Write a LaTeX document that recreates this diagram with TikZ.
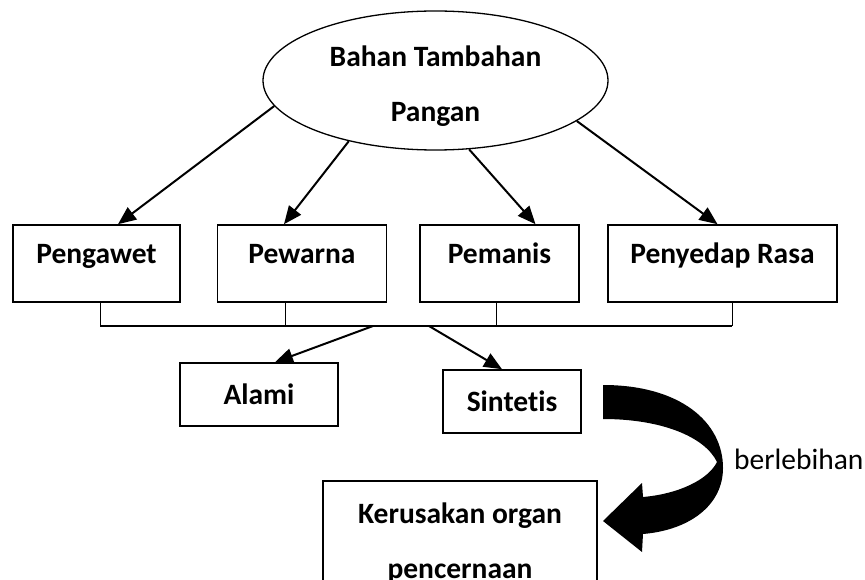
\documentclass[tikz,border=0pt]{standalone}
\usepackage{fontspec}
\setmainfont{Carlito}[Ligatures=NoCommon]
\usetikzlibrary{arrows.meta,shapes.geometric}

\begin{document}
\begin{tikzpicture}[x=1pt,y=-1pt,
  every node/.style={font=\fontsize{29.5}{55}\selectfont},
  kotak/.style={draw, line width=1.6pt, inner sep=0pt, font=\fontsize{29.5}{55}\selectfont\bfseries},
  atas/.style={kotak, text height=38pt, text depth=39pt},
  elips/.style={draw, ellipse, line width=1.3pt, minimum width=345pt, minimum height=139pt},
  panah/.style={-{Triangle[length=18pt,width=15pt]}, line width=2pt}]
\useasboundingbox (0,0) rectangle (865,580);

% bahan tambahan pangan
\node[elips] (bahan) at (435.5,80.5) {};
\node[font=\fontsize{29.5}{55}\selectfont\bfseries, align=center, inner sep=0pt] (bahan-t) at (435.5,86.5) {Bahan Tambahan\\Pangan};

% jenis
\node[atas, minimum width=167pt] (pengawet) at (96.5,263.5) {Pengawet};
\node[atas, minimum width=169pt] (pewarna) at (302,263.5) {Pewarna};
\node[atas, minimum width=159pt] (pemanis) at (499.5,263.5) {Pemanis};
\node[atas, minimum width=229pt] (penyedap) at (722.5,263.5) {Penyedap Rasa};

\draw[panah] (bahan.189) -- ([xshift=21.5pt]pengawet.north);
\draw[panah] (bahan.215) -- ([xshift=-18pt]pewarna.north);
\draw[panah] (bahan.296) -- ([xshift=36pt]pemanis.north);
\draw[panah] (bahan.344) -- ([xshift=-5pt]penyedap.north);

% garis gabung
\coordinate (g1) at (100,326);
\coordinate (g2) at (285,326);
\coordinate (g3) at (496,326);
\coordinate (g4) at (732,326);
\draw[line width=1pt] (g1 |- pengawet.south) -- (g1);
\draw[line width=1pt] (g2 |- pewarna.south) -- (g2);
\draw[line width=1pt] (g3 |- pemanis.south) -- (g3);
\draw[line width=1pt] (g4 |- penyedap.south) -- (g4);
\draw[line width=2pt] (g1) -- (g4);

% sumber
\coordinate (j1) at (373,326);
\coordinate (j2) at (429,326);
\node[kotak, minimum width=158pt, minimum height=63pt] (alami) at (259,394.5) {Alami};
\node[kotak, minimum width=138pt, minimum height=63pt] (sintetis) at (512,401.5) {Sintetis};
\draw[panah] (j1) -- ([xshift=16pt]alami.north);
\draw[panah] (j2) -- ([xshift=-10pt]sintetis.north);

% akibat
\node[kotak, align=center, minimum width=274pt, inner ysep=21.5pt, anchor=north] (rusak) at (460,480) {Kerusakan organ\\pencernaan};
\fill (603,385) .. controls (680,385) and (723,422) .. (723,468)
  .. controls (723,505) and (690,530) .. (643,534) -- (642,552) -- (603,521)
  -- (642,483) -- (643,497) .. controls (678,494) and (708,480) .. (717,462)
  .. controls (705,437) and (662,419) .. (603,419) -- cycle;
\node[anchor=west, inner sep=0pt] (berlebihan) at (734,459) {berlebihan};
\end{tikzpicture}
\end{document}
